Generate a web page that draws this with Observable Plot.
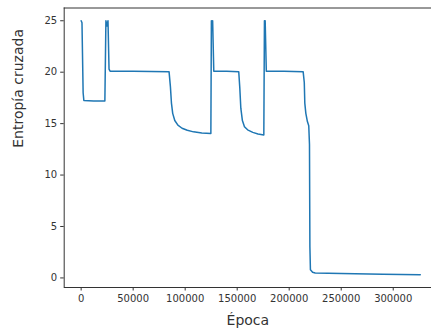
<!DOCTYPE html>
<html>
<head>
<meta charset="utf-8">
<script src="https://cdn.jsdelivr.net/npm/d3@7"></script>
<script src="https://cdn.jsdelivr.net/npm/@observablehq/plot@0.6"></script>
<style>
  html, body { margin: 0; padding: 0; background: #fff; }
  svg { display: block; }
</style>
</head>
<body>
<div id="chart"></div>
<script>
const epochs = [0, 800, 1900, 2600, 12000, 22800, 23800, 24800, 25800, 26800, 27800,
  50000, 84500, 85800, 86800, 88000, 90000, 93000, 97000, 102000, 108000, 116000, 124700,
  125200, 125800, 126400, 127500, 140000, 151500, 152500, 153500, 155000, 157000, 160000,
  165000, 170000, 175600, 176200, 176900, 178000, 195000, 213400, 214500, 215000, 216000,
  217500, 218800, 219500, 219900, 220400, 222500, 225000, 250000, 290000, 326000];
const entropy = [25, 24.8, 18, 17.25, 17.2, 17.2, 25, 24.5, 25, 20.3, 20.1,
  20.1, 20.05, 18.6, 17, 16, 15.3, 14.85, 14.55, 14.35, 14.2, 14.1, 14.05,
  25, 24.5, 25, 20.1, 20.1, 20.05, 18.5, 16.5, 15.3, 14.7, 14.4,
  14.15, 14.0, 13.9, 25, 25, 20.1, 20.1, 20.05, 19, 17, 16,
  15.2, 14.8, 13, 3, 0.8, 0.55, 0.48, 0.42, 0.36, 0.32];
const xTicks = [0, 50000, 100000, 150000, 200000, 250000, 300000];
const yTicks = [0, 5, 10, 15, 20, 25];
const xLabel = "Época";
const yLabel = "Entropía cruzada";

const data = epochs.map((e, i) => ({epoch: e, value: entropy[i]}));
const xDom = [-16300, 336800];
const yDom = [-0.93, 26.24];
const ink = "#333";

const chart = Plot.plot({
  width: 431,
  height: 335,
  marginLeft: 63.7,
  marginRight: 0,
  marginTop: 7.5,
  marginBottom: 48,
  style: {fontFamily: "DejaVu Sans", fontSize: "10px", color: ink, background: "#fff"},
  x: {domain: xDom, label: null},
  y: {domain: yDom, label: null},
  marks: [
    Plot.axisX({ticks: xTicks, tickFormat: d => String(d), tickSize: 3.5, tickPadding: 3.5, stroke: ink, fill: ink, fontSize: 10, label: null}),
    Plot.axisY({ticks: yTicks, tickFormat: d => String(d), tickSize: 3.5, tickPadding: 3.5, stroke: ink, fill: ink, fontSize: 10, label: null}),
    Plot.ruleX([xDom[0]], {stroke: ink, strokeWidth: 1}),
    Plot.ruleY([yDom[0], yDom[1]], {stroke: ink, strokeWidth: 1}),
    Plot.line(data, {x: "epoch", y: "value", stroke: "#1f77b4", strokeWidth: 1.5, strokeLinejoin: "round"}),
    Plot.text([xLabel], {frameAnchor: "bottom", dy: 37, fontSize: 14, fill: ink, fontFamily: "DejaVu Sans"}),
    Plot.text([yLabel], {frameAnchor: "left", dx: -46, rotate: -90, fontSize: 14, fill: ink, fontFamily: "DejaVu Sans"})
  ]
});
document.getElementById("chart").appendChild(chart);
</script>
</body>
</html>
